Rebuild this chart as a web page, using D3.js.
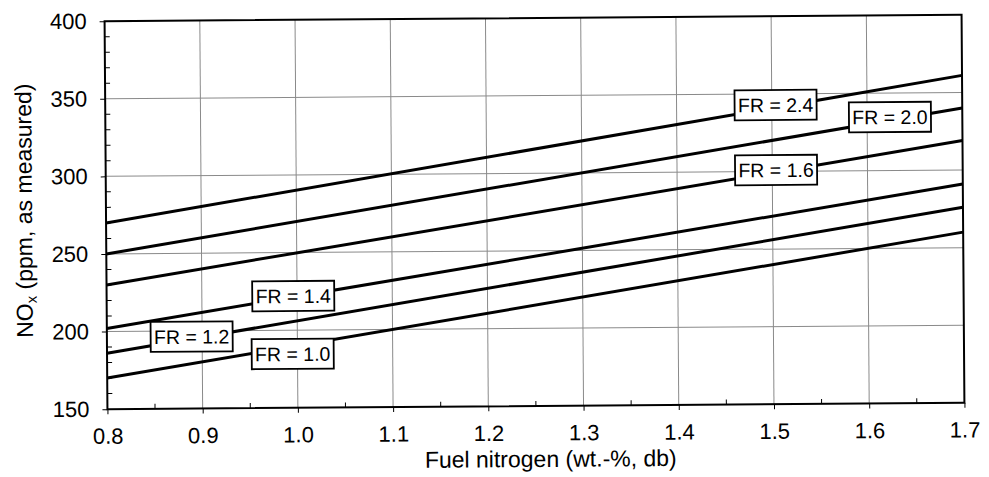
<!DOCTYPE html>
<html>
<head>
<meta charset="utf-8">
<script src="https://cdn.jsdelivr.net/npm/d3@7/dist/d3.min.js"></script>
<style>
  html, body { margin: 0; padding: 0; background: #fff; }
  svg { display: block; font-family: "Liberation Sans", Arial, sans-serif; }
</style>
</head>
<body>
<svg id="chart" width="989" height="477"></svg>
<script>
// ---- data ----
const xTicks = [0.8, 0.9, 1.0, 1.1, 1.2, 1.3, 1.4, 1.5, 1.6, 1.7];
const yTicks = [150, 200, 250, 300, 350, 400];
const nitrogen = [0.8, 1.7];
const seriesNames = ["FR = 2.4", "FR = 2.0", "FR = 1.6", "FR = 1.4", "FR = 1.2", "FR = 1.0"];
const noxFR24 = [270, 361];
const noxFR20 = [250, 340];
const noxFR16 = [230, 319];
const noxFR14 = [202, 291];
const noxFR12 = [186, 276];
const noxFR10 = [170, 260];
const labelNitrogen = [1.504, 1.624, 1.504, 0.996, 0.889, 0.995];
const labelNox = [342.8, 334.5, 300.9, 222.0, 196.3, 184.7];

const seriesValues = [noxFR24, noxFR20, noxFR16, noxFR14, noxFR12, noxFR10];

// ---- layout ----
const mL = 106, mR = 963, mT = 18, mB = 406;
const svg = d3.select("#chart");
const g = svg.append("g").attr("transform", "rotate(-0.42, 534.6, 211.9)");

const x = d3.scaleLinear().domain([0.8, 1.7]).range([mL, mR]);
const y = d3.scaleLinear().domain([150, 400]).range([mB, mT]);

// gridlines
g.append("g").selectAll("line").data(xTicks.slice(1, -1)).join("line")
  .attr("x1", d => x(d)).attr("x2", d => x(d)).attr("y1", mT).attr("y2", mB)
  .attr("stroke", "#8a8a8a").attr("stroke-width", 1);
g.append("g").selectAll("line").data(yTicks.slice(1, -1)).join("line")
  .attr("x1", mL).attr("x2", mR).attr("y1", d => y(d)).attr("y2", d => y(d))
  .attr("stroke", "#8a8a8a").attr("stroke-width", 1);

// minor ticks (inside)
const yMinor = d3.range(160, 400, 10).filter(v => v % 50 !== 0);
g.append("g").selectAll("line").data(yMinor).join("line")
  .attr("x1", mL).attr("x2", mL + 5).attr("y1", d => y(d)).attr("y2", d => y(d))
  .attr("stroke", "#000").attr("stroke-width", 1);
const xMinor = xTicks.slice(0, -1).map(v => v + 0.05);
g.append("g").selectAll("line").data(xMinor).join("line")
  .attr("x1", d => x(d)).attr("x2", d => x(d)).attr("y1", mB).attr("y2", mB - 5)
  .attr("stroke", "#000").attr("stroke-width", 1);

// axes
const yAxis = d3.axisLeft(y).tickValues(yTicks).tickSize(5).tickPadding(13).tickFormat(d3.format("d"));
const xAxis = d3.axisBottom(x).tickValues(xTicks).tickSize(5).tickPadding(14).tickFormat(d3.format(".1f"));

const ya = g.append("g").attr("transform", `translate(${mL},0)`).call(yAxis);
const xa = g.append("g").attr("transform", `translate(0,${mB})`).call(xAxis);
[ya, xa].forEach(a => {
  a.select(".domain").remove();
  a.selectAll(".tick line").attr("stroke", "#000").attr("stroke-width", 1);
  a.selectAll(".tick text").attr("fill", "#000").attr("font-size", 22)
    .attr("font-family", "Liberation Sans, Arial, sans-serif");
});

// frame
g.append("rect").attr("x", mL).attr("y", mT).attr("width", mR - mL).attr("height", mB - mT)
  .attr("fill", "none").attr("stroke", "#000").attr("stroke-width", 2);

// series lines
const line = d3.line().x((d, i) => x(nitrogen[i])).y(d => y(d));
g.append("g").selectAll("path").data(seriesValues).join("path")
  .attr("d", d => line(d))
  .attr("fill", "none").attr("stroke", "#000").attr("stroke-width", 3);

// labels
const boxW = 82, boxH = 30;
const lab = g.append("g").selectAll("g").data(seriesNames).join("g")
  .attr("transform", (d, i) => `translate(${x(labelNitrogen[i])},${y(labelNox[i])})`);
lab.append("rect").attr("x", -boxW / 2).attr("y", -boxH / 2).attr("width", boxW).attr("height", boxH)
  .attr("fill", "#fff").attr("stroke", "#000").attr("stroke-width", 1.8);
lab.append("text").attr("text-anchor", "middle").attr("dy", "0.36em")
  .attr("font-size", 19.5).attr("fill", "#000").text(d => d);

// axis titles
g.append("text").attr("x", 549).attr("y", 467).attr("text-anchor", "middle")
  .attr("font-size", 23).attr("fill", "#000").text("Fuel nitrogen (wt.-%, db)");
const yt = g.append("text").attr("transform", "translate(32,207) rotate(-90)")
  .attr("text-anchor", "middle").attr("font-size", 23).attr("fill", "#000");
yt.append("tspan").text("NO");
yt.append("tspan").attr("font-size", 15).attr("dy", 4).text("x");
yt.append("tspan").attr("dy", -4).text(" (ppm, as measured)");
</script>
</body>
</html>
